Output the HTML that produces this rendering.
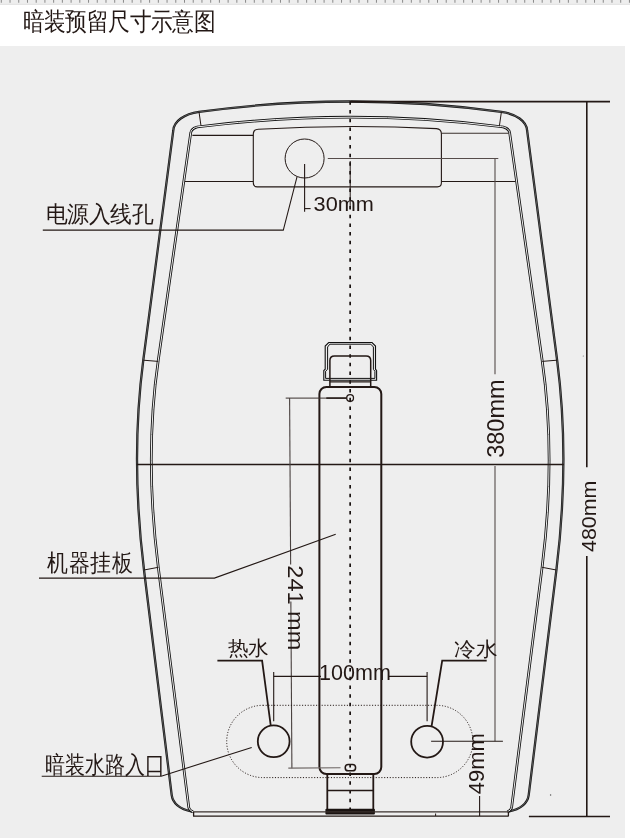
<!DOCTYPE html>
<html><head><meta charset="utf-8">
<style>
html,body{margin:0;padding:0;background:#fff;width:630px;height:838px;overflow:hidden}
svg{display:block;position:absolute;left:0;top:0;will-change:transform}
text{font-family:"Liberation Sans",sans-serif;fill:#231815}
</style></head><body>
<svg width="630" height="838" viewBox="0 0 630 838">
<!-- top strip -->
<rect x="0" y="0" width="630" height="4.2" fill="#eeeeee"/>
<line x1="0" y1="4.45" x2="630" y2="4.45" stroke="#d4d4d4" stroke-width="0.6"/>
<line x1="0.8" y1="1.4" x2="630" y2="1.4" stroke="#8a8a8a" stroke-width="2.8" stroke-dasharray="1 7.724"/>
<!-- grey panel -->
<rect x="0" y="46" width="625" height="792" fill="#eeeeee"/>

<g fill="none" stroke-linecap="butt">
<!-- body outlines: left half + mirrored -->
<g id="half">
 <path id="outer" d="M350.2,101.5 Q274.6,101.5 199,111.9 C184.1,113.9 173.84,121.4 173.3,130.5 L143.3,360 Q130.36,459 144,570 L171.7,795.2 Q173.5,808 192.1,811.6" stroke="#151515" stroke-width="2.3"/>
 <path d="M350.2,101.5 Q274.6,101.5 199,111.9 C184.1,113.9 173.84,121.4 173.3,130.5 L143.3,360 Q130.36,459 144,570 L171.7,795.2 Q173.5,808 192.1,811.6" stroke="#eeeeee" stroke-width="0.6" stroke-opacity="0.5"/>
 <path d="M350.2,117.2 Q275.6,117.2 201,126.5 C195.5,126.5 191.3,129.1 190.8,132.4 L158.3,360 Q144.25,456.6 158.3,567.3 L188.8,807.6 Q189.2,810 193,811.9" stroke="#111" stroke-width="2.7"/>
 <path d="M350.2,117.2 Q275.6,117.2 201,126.5 C195.5,126.5 191.3,129.1 190.8,132.4 L158.3,360 Q144.25,456.6 158.3,567.3 L188.8,807.6 Q189.2,810 193,811.9" stroke="#eeeeee" stroke-width="1"/>
 <!-- ticks -->
 <line x1="199" y1="111.9" x2="201" y2="125.9" stroke="#231815" stroke-width="1"/>
 <line x1="143.4" y1="360.2" x2="158.2" y2="361.4" stroke="#231815" stroke-width="1"/>
 <line x1="144" y1="570" x2="158.3" y2="567.3" stroke="#231815" stroke-width="1"/>
</g>
<use href="#half" transform="translate(700.4,0) scale(-1,1)"/>

<!-- horizontal lines near top panel -->
<line x1="192.4" y1="135.4" x2="253.3" y2="135.4" stroke="#231815" stroke-width="1.1"/>
<line x1="441.4" y1="133.3" x2="508.8" y2="133.3" stroke="#3a302d" stroke-width="1.1"/>
<line x1="185" y1="181.5" x2="253.3" y2="181.5" stroke="#231815" stroke-width="1.1"/>
<line x1="441.4" y1="181.5" x2="515.4" y2="181.5" stroke="#231815" stroke-width="1.1"/>
<!-- mid line -->
<line x1="136.7" y1="464.5" x2="563.7" y2="464.5" stroke="#231815" stroke-width="1.6"/>
<!-- panel -->
<path d="M253.3,182.8 L253.3,134 Q253.3,129.4 258.3,129.2 Q347.4,124.2 436.4,128.6 Q441.4,128.9 441.4,134 L441.4,182.8 Q441.4,186.9 437.4,186.9 L257.3,186.9 Q253.3,186.9 253.3,182.8 Z" stroke="#231815" stroke-width="1.1"/>
<!-- power hole -->
<circle cx="304.6" cy="158.5" r="19.5" stroke="#231815" stroke-width="1"/>
<line x1="304.6" y1="164" x2="304.6" y2="211.7" stroke="#231815" stroke-width="1.1"/>
<line x1="304.6" y1="208.6" x2="310.6" y2="208.6" stroke="#231815" stroke-width="1.1"/>
<line x1="350.2" y1="161" x2="350.2" y2="209" stroke="#231815" stroke-width="1"/>
<polyline points="297,176.9 283.3,230.1 42.8,230.1" stroke="#231815" stroke-width="1.05"/>
<!-- 380 dimension -->
<line x1="327.8" y1="158.5" x2="498.3" y2="158.5" stroke="#554c4a" stroke-width="1.1"/>
<line x1="495" y1="158.5" x2="495" y2="374.3" stroke="#554c4a" stroke-width="1.1"/>
<line x1="495" y1="466" x2="495" y2="741.2" stroke="#554c4a" stroke-width="1.1"/>
<line x1="431.1" y1="741.2" x2="502.9" y2="741.2" stroke="#231815" stroke-width="1.1"/>
<!-- 480 dimension -->
<line x1="350.2" y1="101.6" x2="610" y2="101.6" stroke="#231815" stroke-width="1.6"/>
<line x1="586.8" y1="101.6" x2="586.8" y2="467.2" stroke="#231815" stroke-width="1.6"/>
<line x1="586.8" y1="556" x2="586.8" y2="816.2" stroke="#231815" stroke-width="1.6"/>
<line x1="528.9" y1="816.5" x2="610" y2="816.5" stroke="#231815" stroke-width="1.6"/>
<circle cx="550.6" cy="795" r="0.7" fill="#555" stroke="none"/>
<circle cx="583.3" cy="356" r="0.6" fill="#777" stroke="none"/>
<!-- centre line -->
<line x1="350.15" y1="101.33" x2="350.15" y2="815" stroke="#1a1311" stroke-width="1.7" stroke-dasharray="3.5 5.218"/>

<!-- hanger -->
<path d="M323.8,380.3 L323.8,370.6 L325.2,369.2 L325.2,346 L328.7,342.5 L372,342.5 L375.5,346 L375.5,369.2 L376.6,370.6 L376.6,380.3 Z" stroke="#111" stroke-width="1.1" fill="none"/>
<path d="M325.6,378.4 L325.6,371.2 L327.6,369.4 L327.6,347 L329.8,344.2 L370.8,344.2 L373.4,347 L373.4,369.4 L374.9,371.2 L374.9,378.4 Z" stroke="#111" stroke-width="1" fill="none"/>
<path d="M329.9,386.6 L329.9,360.6 Q329.9,356 334.5,356 L366.1,356 Q370.7,356 370.7,360.6 L370.7,386.6" stroke="#231815" stroke-width="1.5"/>
<line x1="329.9" y1="381.9" x2="370.7" y2="381.9" stroke="#231815" stroke-width="1.1"/>
<rect x="319.4" y="387" width="61.9" height="387.1" rx="7" stroke="#231815" stroke-width="2"/>
<circle cx="350.1" cy="398.1" r="3.4" stroke="#231815" stroke-width="1.3"/>
<line x1="285.7" y1="398.1" x2="346.5" y2="398.1" stroke="#3a302d" stroke-width="1"/>
<line x1="326.3" y1="398.1" x2="346.5" y2="398.1" stroke="#231815" stroke-width="1.5"/>
<line x1="289.6" y1="398" x2="291.9" y2="768.3" stroke="#4a4240" stroke-width="1.1"/>
<line x1="288.3" y1="768.1" x2="340.5" y2="767.8" stroke="#6d6664" stroke-width="1.1"/>
<rect x="345.2" y="764.5" width="10.4" height="6.3" rx="3.15" stroke="#231815" stroke-width="1.5"/>
<line x1="327.3" y1="774" x2="327.3" y2="811" stroke="#231815" stroke-width="1.8"/>
<line x1="373.3" y1="774" x2="373.3" y2="811" stroke="#231815" stroke-width="1.8"/>
<line x1="327.3" y1="790.5" x2="373.3" y2="790.5" stroke="#231815" stroke-width="1.6"/>
<rect x="325.4" y="808.8" width="49.5" height="5.6" rx="1" fill="#1a1311" stroke="none"/>

<!-- bottom strip -->
<line x1="193.1" y1="811.9" x2="508.6" y2="811.9" stroke="#3a302d" stroke-width="1.1"/>
<line x1="193.1" y1="816.2" x2="508.6" y2="816.2" stroke="#231815" stroke-width="1.3"/>
<line x1="193.6" y1="811.9" x2="193.6" y2="816.2" stroke="#231815" stroke-width="1.3"/>
<line x1="508.4" y1="811.9" x2="508.4" y2="816.2" stroke="#231815" stroke-width="1.3"/>

<!-- water inlets -->
<rect x="226.7" y="705.3" width="246.2" height="72.3" rx="36.15" stroke="#231815" stroke-width="1" stroke-dasharray="1.1 1.7"/>
<circle cx="273.7" cy="741.3" r="15.9" stroke="#231815" stroke-width="1.8"/>
<circle cx="427.1" cy="741.7" r="15.9" stroke="#231815" stroke-width="1.8"/>
<line x1="273.7" y1="672" x2="273.7" y2="721.2" stroke="#231815" stroke-width="1.1"/>
<line x1="427.1" y1="672" x2="427.1" y2="721.2" stroke="#231815" stroke-width="1.1"/>
<line x1="273.7" y1="676.4" x2="321" y2="676.4" stroke="#231815" stroke-width="1.1"/>
<line x1="388.9" y1="676.4" x2="427.1" y2="676.4" stroke="#231815" stroke-width="1.1"/>
<polyline points="217.4,660.7 262.1,660.7 270.8,726" stroke="#231815" stroke-width="1.8"/>
<polyline points="486.7,660.7 442.2,660.7 431.6,726.1" stroke="#231815" stroke-width="1.8"/>
<line x1="479.6" y1="796" x2="479.6" y2="816.1" stroke="#231815" stroke-width="1.1"/>
<line x1="435.6" y1="813.5" x2="435.6" y2="816" stroke="#231815" stroke-width="1"/>
<polyline points="41.7,776.2 161.2,776.2 251.7,747.4" stroke="#231815" stroke-width="1.1"/>
<polyline points="39,578.1 214.4,578.1 335.7,534.3" stroke="#231815" stroke-width="1.1"/>
</g>

<!-- labels -->
<text transform="translate(22.8,29.9) scale(0.87,1)" font-size="24.6">暗装预留尺寸示意图</text>
<text transform="translate(46,222.45) scale(0.947,1)" font-size="22.6">电源入线孔</text>
<text transform="translate(47.4,571.15) scale(0.872,1)" font-size="24.3">机器挂板</text>
<text transform="translate(45.4,772.6) scale(0.835,1)" font-size="23.5">暗装水路入口</text>
<text transform="translate(227.8,655.45) scale(1.035,1)" font-size="20">热水</text>
<text transform="translate(453.9,655.6) scale(1.088,1)" font-size="19.7">冷水</text>
<text transform="translate(313.6,211) scale(1.035,1)" font-size="21">30mm</text>
<text transform="translate(319.1,679.5)" font-size="21.5">100mm</text>
<text transform="translate(503.8,457.8) rotate(-90)" font-size="23.5">380mm</text>
<text transform="translate(595.7,552) rotate(-90) scale(1.053,1)" font-size="20.3">480mm</text>
<text transform="translate(483.5,794.3) rotate(-90)" font-size="22">49mm</text>
<rect x="286.5" y="564.5" width="8" height="37" fill="#eeeeee"/>
<text transform="translate(288,565.3) rotate(90) scale(1.08,1)" font-size="21.8">241 mm</text>
</svg>
</body></html>
